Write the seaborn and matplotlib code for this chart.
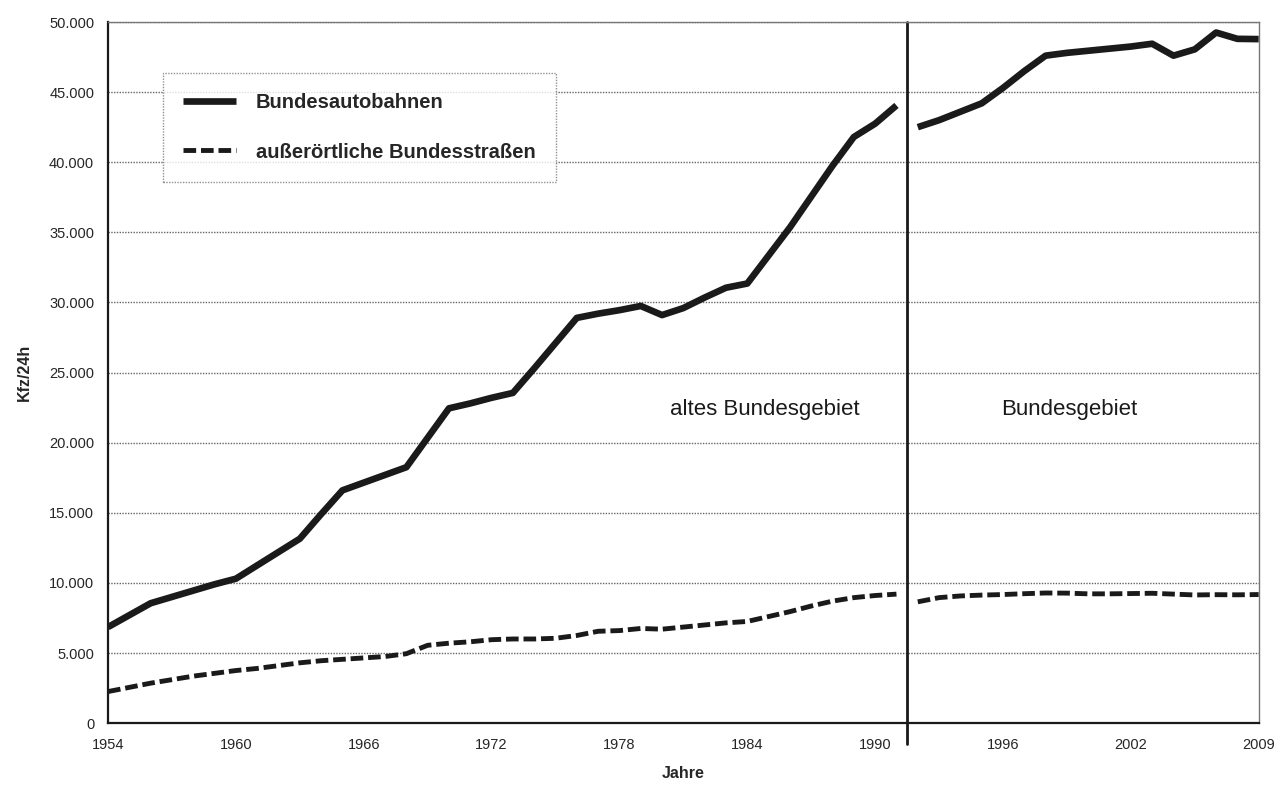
import numpy as np
import pandas as pd
import matplotlib
matplotlib.use("Agg")
import matplotlib.pyplot as plt
from matplotlib.lines import Line2D
import seaborn as sns

# Daten: DTV in Kfz/24h
years_alt = list(range(1954, 1992))
bab_alt = [6850, 7700, 8550, 9000, 9450, 9900, 10300, 11250, 12200, 13150,
           14900, 16600, 17150, 17700, 18250, 20350, 22450, 22800, 23200, 23550,
           25300, 27100, 28900, 29200, 29450, 29750, 29100, 29600, 30350, 31050,
           31350, 33350, 35350, 37550, 39750, 41800, 42750, 44050]
bs_alt = [2250, 2550, 2850, 3100, 3350, 3550, 3750, 3900, 4100, 4300,
          4450, 4550, 4650, 4750, 4950, 5550, 5700, 5800, 5950, 6000,
          6000, 6050, 6250, 6550, 6600, 6750, 6700, 6850, 7000, 7150,
          7250, 7600, 7950, 8350, 8700, 8950, 9100, 9200]

years_neu = list(range(1993, 2010))
bab_neu = [42500, 43000, 43600, 44200, 45300, 46500, 47600, 47800, 47950, 48100,
           48250, 48450, 47600, 48050, 49250, 48800, 48780]
bs_neu = [8650, 8950, 9070, 9130, 9170, 9230, 9280, 9270, 9220, 9220,
          9240, 9260, 9200, 9140, 9160, 9150, 9170]

x_ticklabels = ["1954", "1960", "1966", "1972", "1978", "1984", "1990", "1996", "2002", "2009"]
y_ticks = list(range(0, 50001, 5000))
serien = ["Bundesautobahnen", "außerörtliche Bundesstraßen"]

# Kategorienachse wie im Excel-Original: eine Kategorie pro Jahr
kategorien = years_alt + years_neu
pos = {j: i for i, j in enumerate(kategorien)}

rows = []
for teil, jahre, bab, bs in [("alt", years_alt, bab_alt, bs_alt),
                             ("neu", years_neu, bab_neu, bs_neu)]:
    for j, a, b in zip(jahre, bab, bs):
        rows.append({"pos": pos[j], "teil": teil, "Strasse": serien[0], "Kfz": a})
        rows.append({"pos": pos[j], "teil": teil, "Strasse": serien[1], "Kfz": b})
df = pd.DataFrame(rows)

sns.set_style("white")
plt.rcParams["font.family"] = ["Liberation Sans", "DejaVu Sans"]

ink = "#1a1a1a"
fig, ax = plt.subplots(figsize=(12.74, 7.86), dpi=100)
fig.subplots_adjust(left=0.0848, right=0.988, top=0.972, bottom=0.080)

for teil in ["alt", "neu"]:
    d = df[(df["teil"] == teil) & (df["Strasse"] == serien[0])]
    sns.lineplot(data=d, x="pos", y="Kfz", color=ink, linewidth=4.8, ax=ax,
                 estimator=None, solid_capstyle="butt")
    d = df[(df["teil"] == teil) & (df["Strasse"] == serien[1])]
    sns.lineplot(data=d, x="pos", y="Kfz", color=ink, linewidth=3.5, ax=ax,
                 estimator=None, dashes=False, linestyle=(0, (2.6, 1.0)),
                 dash_capstyle="butt")

# Trennlinie altes / gesamtes Bundesgebiet
ax.axvline(len(years_alt) - 0.5, ymin=-0.03, ymax=1, color=ink, lw=2.0, clip_on=False)

ax.set_xlim(0, len(kategorien) - 1)
ax.set_ylim(0, 50000)
ax.set_yticks(y_ticks)
ax.set_yticklabels([f"{v:,}".replace(",", ".") for v in y_ticks], fontsize=10.5)
ax.set_xticks(np.linspace(0, len(kategorien) - 1, len(x_ticklabels)))
ax.set_xticklabels(x_ticklabels, fontsize=10.5)
ax.set_xticks(np.arange(len(kategorien)), minor=True)
ax.tick_params(axis="x", which="major", length=5, width=1, color="#444", pad=6)
ax.tick_params(axis="x", which="minor", length=3, width=0.8, color="#888")
ax.tick_params(axis="y", which="major", length=6, width=1, color="#888", pad=4)

ax.grid(axis="y", color="#666", linestyle=(0, (1, 1)), linewidth=1.0)
ax.grid(axis="x", visible=False)
for s in ["top", "right"]:
    ax.spines[s].set_visible(True)
    ax.spines[s].set_color("#777")
    ax.spines[s].set_linestyle((0, (1, 1)))
    ax.spines[s].set_linewidth(1.0)
for s in ["left", "bottom"]:
    ax.spines[s].set_color(ink)
    ax.spines[s].set_linewidth(1.6)

ax.set_xlabel("Jahre", fontsize=11.5, fontweight="bold", labelpad=10)
ax.set_ylabel("Kfz/24h", fontsize=11.5, fontweight="bold", labelpad=12)

ax.text(30.8, 22400, "altes Bundesgebiet", fontsize=16, ha="center", va="center", color=ink)
ax.text(45.1, 22400, "Bundesgebiet", fontsize=16, ha="center", va="center", color=ink)

handles = [Line2D([], [], color=ink, lw=4.8, solid_capstyle="butt"),
           Line2D([], [], color=ink, lw=3.5, linestyle=(0, (2.6, 1.0)), dash_capstyle="butt")]
leg = ax.legend(handles, serien, loc="upper left", bbox_to_anchor=(0.048, 0.927),
                borderaxespad=0, fancybox=False, frameon=True, handlelength=2.6,
                handletextpad=1.0, labelspacing=1.5, borderpad=1.0,
                prop={"weight": "bold", "size": 14.5})
leg.get_frame().set_edgecolor("#777")
leg.get_frame().set_linestyle((0, (1, 1)))
leg.get_frame().set_linewidth(1.0)

fig.savefig("out.png", dpi=100)
